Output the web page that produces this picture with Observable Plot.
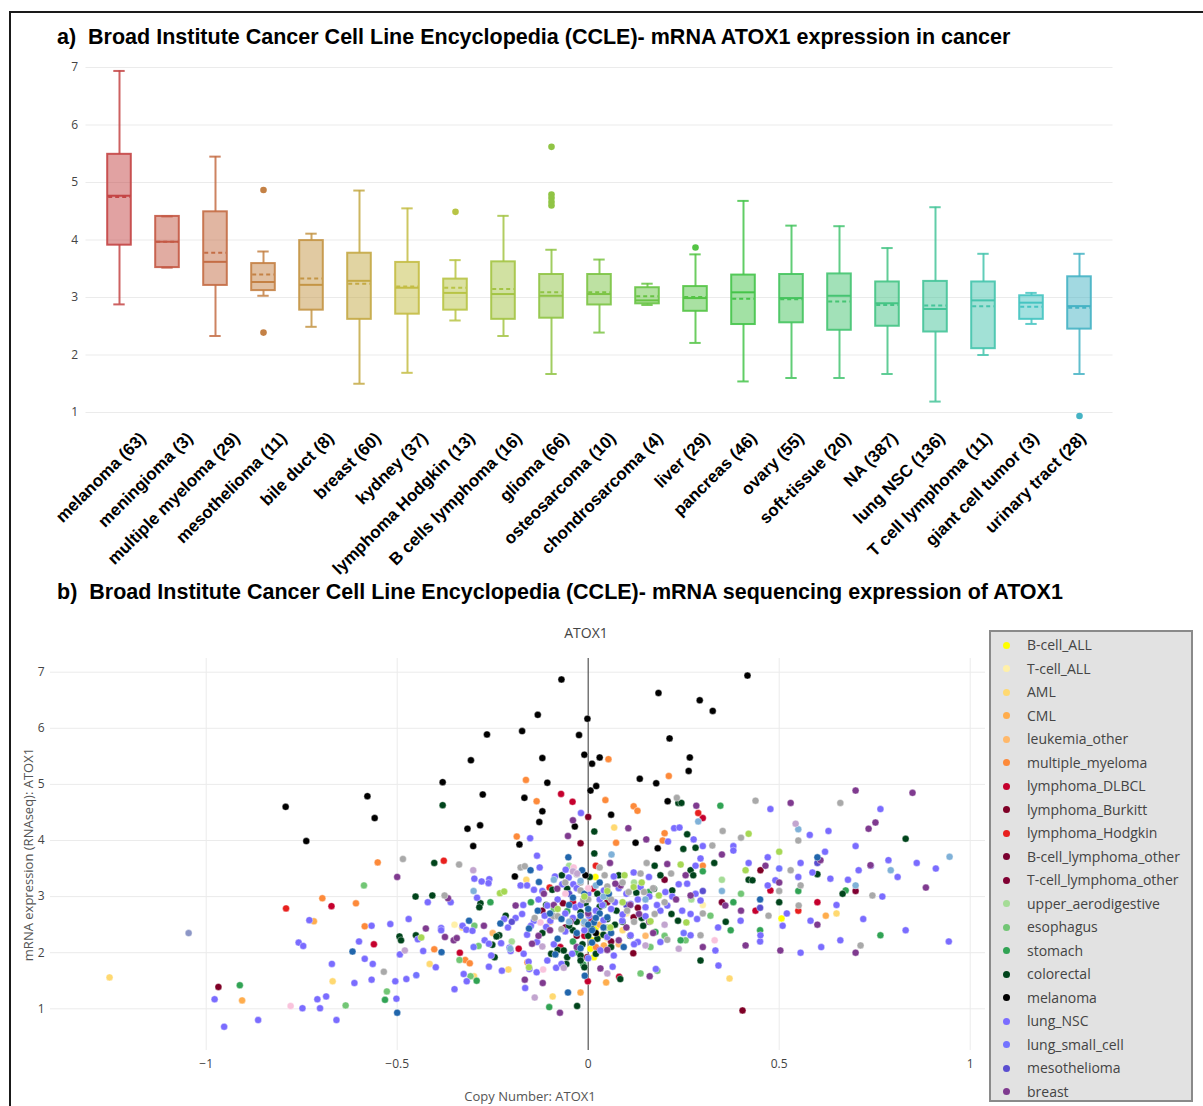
<!DOCTYPE html>
<html><head><meta charset="utf-8">
<script src="https://cdn.jsdelivr.net/npm/d3@7"></script>
<script src="https://cdn.jsdelivr.net/npm/@observablehq/plot@0.6"></script>
<style>
body{margin:0;width:1203px;height:1106px;overflow:hidden;background:#fff;position:relative;font-family:"Liberation Sans",Arial,sans-serif;}
#frame{position:absolute;left:9px;top:11px;width:1300px;height:1200px;border:2px solid #1a1a1a;}
.title{position:absolute;left:57px;font-weight:bold;font-size:21.5px;line-height:24px;color:#000;white-space:nowrap;}
.abs{position:absolute;left:0;}
#stitle{position:absolute;left:0;width:1172px;text-align:center;top:623px;font-family:"Open Sans";font-size:14px;color:#444}
#legend{position:absolute;left:989px;top:630px;width:204px;height:472px;background:#e2e2e2;border:2px solid #8a8a8a;box-sizing:border-box;}
.li{position:absolute;left:0;height:20px;font-family:"Open Sans";font-size:14px;color:#444;line-height:20px;white-space:nowrap;}
.li span.d{position:absolute;left:12px;top:6.5px;width:7px;height:7px;border-radius:50%;}
.li span.t{position:absolute;left:36px;top:0;}
</style></head>
<body>
<div id="frame"></div>
<div class="title" style="top:25px">a)&nbsp;&nbsp;Broad Institute Cancer Cell Line Encyclopedia (CCLE)- mRNA ATOX1 expression in cancer</div>
<div id="boxchart" class="abs" style="top:50px"></div>
<div id="boxlabels" class="abs" style="top:50px"></div>
<div class="title" style="top:580px">b)&nbsp;&nbsp;Broad Institute Cancer Cell Line Encyclopedia (CCLE)- mRNA sequencing expression of ATOX1</div>
<div id="stitle">ATOX1</div>
<div id="scatter" class="abs" style="top:620px"></div>
<div id="legend"></div>
<script>
// ---------- Panel a: box plot data ----------
const boxCats = ["melanoma (63)","meningioma (3)","multiple myeloma (29)","mesothelioma (11)","bile duct (8)","breast (60)","kydney (37)","lymphoma Hodgkin (13)","B cells lymphoma (16)","glioma (66)","osteosarcoma (10)","chondrosarcoma (4)","liver (29)","pancreas (46)","ovary (55)","soft-tissue (20)","NA (387)","lung NSC (136)","T cell lymphoma (11)","giant cell tumor (3)","urinary tract (28)"];
const boxQ1     = [3.91,3.52,3.21,3.12,2.78,2.62,2.71,2.78,2.62,2.64,2.87,2.89,2.76,2.53,2.56,2.43,2.50,2.40,2.11,2.62,2.45];
const boxMedian = [4.77,3.97,3.62,3.27,3.22,3.29,3.17,3.08,3.06,3.03,3.06,2.95,2.99,3.09,2.99,3.03,2.90,2.80,2.95,2.91,2.85];
const boxQ3     = [5.49,4.41,4.49,3.59,3.99,3.77,3.61,3.32,3.62,3.40,3.40,3.17,3.19,3.39,3.40,3.41,3.27,3.28,3.27,3.03,3.36];
const boxLow    = [2.88,3.52,2.33,3.03,2.49,1.50,1.69,2.60,2.33,1.67,2.39,2.87,2.21,1.54,1.60,1.60,1.67,1.19,2.00,2.54,1.67];
const boxHigh   = [6.94,4.41,5.45,3.80,4.11,4.86,4.55,3.65,4.42,3.83,3.66,3.24,3.75,4.68,4.25,4.24,3.86,4.57,3.76,3.08,3.76];
const boxMean   = [4.75,3.97,3.78,3.40,3.33,3.24,3.19,3.17,3.15,3.09,3.09,3.02,3.01,2.98,2.97,2.93,2.87,2.86,2.85,2.84,2.82];
const outlierCat = ["mesothelioma (11)","mesothelioma (11)","lymphoma Hodgkin (13)","glioma (66)","glioma (66)","glioma (66)","glioma (66)","glioma (66)","liver (29)","urinary tract (28)"];
const outlierVal = [4.87,2.39,4.49,5.62,4.79,4.73,4.66,4.60,3.87,0.94];
const yTicksA = [1,2,3,4,5,6,7];

// ---------- Panel b: scatter data (copy number, mRNA) ----------
const bcellALL = [[0.019,3.35],[0.006,2.07],[0.010,2.22],[0.015,1.92],[0.506,2.61],[0.03,2.30],[-0.02,2.62],[0.02,2.45]];
const tcellALL = [[-0.35,2.50],[0.05,2.25],[0.10,2.70],[0.30,2.85]];
const aml = [[-1.253,1.56],[-0.669,1.49],[-0.415,1.80],[-0.299,1.58],[-0.209,1.70],[-0.162,3.30],[0.068,4.23],[-0.093,1.22],[0.370,1.54],[0.65,2.70],[-0.33,2.45],[0.09,2.40]];
const cml = [[-0.906,1.15],[-0.718,2.56],[-0.020,1.29],[0.047,1.47],[0.622,2.66],[0.03,2.50],[0.041,2.13]];
const leukOther = [[-0.10,2.55],[0.15,2.30],[-0.25,2.35],[0.08,2.15]];
const myeloma = [[-0.696,2.97],[-0.608,2.88],[-0.551,3.61],[-0.585,2.47],[0.053,5.45],[-0.163,5.08],[0.211,5.15],[-0.135,4.70],[0.045,4.72],[0.119,4.61],[0.129,4.53],[-0.187,4.07],[0.073,3.96],[0.195,4.00],[0.200,4.13],[-0.403,2.06],[-0.322,1.87],[-0.310,1.81],[-0.159,1.83],[0.02,2.10],[0.30,3.55]];
const dlbcl = [[-0.672,2.83],[-0.561,2.15],[-0.071,4.83],[-0.041,4.69],[-0.336,2.00],[-0.001,1.49],[0.081,1.57],[0.013,3.14],[-0.182,2.07],[-0.073,2.10],[0.024,2.75],[0.477,3.11],[0.30,4.40],[0.60,2.90],[0.438,2.75],[-0.01,2.30],[0.03,2.05],[0.01,2.60],[-0.04,2.90]];
const burkitt = [[-0.968,1.39],[0.000,4.42],[-0.020,3.95],[-0.066,2.88],[0.118,1.99],[0.451,3.47],[0.404,0.97],[0.05,2.90],[-0.03,2.30],[0.13,2.80],[0.119,2.63],[-0.003,1.92]];
const hodgkin = [[-0.791,2.79],[-0.378,3.64],[0.288,4.49],[-0.101,3.16],[0.02,3.55],[0.55,2.75]];
const bcellLymph = [[0.06,2.20],[-0.12,2.75],[0.20,3.30]];
const tcellLymph = [[0.35,2.90],[0.70,3.10],[-0.06,2.45]];
const upperAero = [[-0.05,3.55],[0.12,3.25],[0.27,2.95],[-0.20,2.20],[0.35,3.30],[0.05,2.45]];
const esophagus = [[-0.635,1.06],[-0.587,3.20],[-0.527,1.31],[-0.298,2.48],[-0.337,1.87],[-0.308,1.58],[-0.287,2.12],[-0.090,2.78],[0.137,1.63],[0.181,1.68],[0.20,2.30],[0.05,3.00],[0.40,3.05],[0.163,2.10],[0.255,2.22],[0.320,2.66]];
const stomach = [[-0.912,1.42],[-0.532,1.16],[-0.292,1.50],[-0.256,2.90],[-0.102,1.03],[-0.055,2.74],[0.159,3.08],[-0.029,2.01],[-0.013,1.79],[0.242,2.22],[0.346,4.62],[0.30,3.45],[0.38,2.90],[0.45,2.40],[-0.15,2.90],[0.55,3.10],[0.176,2.37],[0.674,3.11],[0.373,2.40],[0.765,2.31],[-0.04,2.20],[0.04,2.85]];
const colorectal = [[-0.452,3.00],[-0.494,2.29],[-0.490,2.22],[-0.451,2.31],[-0.381,4.63],[0.016,4.16],[0.236,4.67],[0.244,4.67],[0.016,3.77],[0.249,3.85],[0.259,4.11],[0.281,3.87],[-0.403,3.60],[-0.408,3.02],[-0.282,2.88],[-0.285,2.81],[-0.216,2.66],[-0.245,1.92],[-0.251,2.14],[-0.233,2.31],[-0.240,2.29],[-0.057,1.80],[-0.029,1.05],[0.084,1.53],[-0.069,3.38],[0.004,3.35],[0.080,3.38],[0.174,3.55],[0.189,3.38],[0.268,3.47],[0.275,3.38],[-0.094,3.12],[-0.055,3.14],[0.024,3.05],[0.126,3.07],[0.172,3.14],[0.220,3.11],[-0.007,2.88],[0.074,2.75],[0.144,2.48],[0.235,2.57],[-0.055,1.92],[0.024,2.25],[0.831,4.03],[0.666,3.05],[-0.08,2.05],[-0.04,2.40],[0.05,2.60],[-0.02,1.95],[0.11,2.30],[0.33,3.60],[0.42,3.30],[0.50,2.90],[0.60,3.40],[0.36,2.55],[0.218,2.69],[-0.097,1.98],[-0.064,2.04],[-0.020,1.86],[-0.010,1.74],[0.430,3.29],[0.294,1.86],[-0.12,2.35],[-0.03,2.55],[0.01,2.42],[0.04,2.32],[-0.015,2.15],[0.07,2.50],
  [0.00,2.30],[-0.02,2.72],[0.03,2.82],[0.06,2.10],[-0.05,2.48],[0.09,2.55],[-0.11,2.85],[0.14,2.62],[0.02,1.98]];
const melanoma = [[-0.792,4.60],[-0.738,3.99],[-0.578,4.79],[-0.559,4.40],[-0.070,6.87],[0.184,6.63],[0.292,6.50],[0.326,6.31],[0.417,6.94],[-0.132,6.24],[-0.002,6.17],[-0.265,5.89],[-0.173,5.95],[-0.024,5.88],[0.213,5.82],[-0.307,5.43],[-0.120,5.47],[-0.010,5.53],[0.010,5.37],[0.030,5.48],[0.266,5.48],[0.263,5.24],[-0.381,5.04],[-0.107,5.03],[0.135,5.10],[0.178,5.02],[0.021,4.97],[0.006,4.89],[-0.276,4.82],[-0.167,4.76],[-0.120,4.52],[0.208,4.70],[0.060,4.46],[-0.128,4.33],[-0.035,4.25],[-0.316,4.21],[-0.283,4.27],[-0.180,3.93],[-0.301,3.90],[0.124,3.96],[0.182,3.86],[-0.192,3.36],[-0.007,3.38],[-0.005,2.95],[0.02,2.35]];
const lungNSC = [[-0.978,1.17],[-0.953,0.68],[-0.864,0.80],[-0.730,2.58],[-0.758,2.18],[-0.746,2.12],[-0.748,1.01],[-0.671,1.80],[-0.709,1.17],[-0.686,1.22],[-0.702,1.01],[-0.659,0.80],[-0.612,1.46],[-0.567,2.48],[-0.585,1.89],[-0.564,1.80],[-0.567,1.52],[-0.505,1.49],[-0.502,1.18],[-0.518,2.51],[-0.446,2.24],[-0.493,1.97],[-0.432,2.03],[-0.476,1.53],[-0.019,4.49],[-0.152,4.04],[0.209,3.98],[0.225,4.22],[0.239,4.23],[0.276,4.02],[-0.134,3.73],[-0.291,2.98],[-0.259,3.31],[-0.261,3.24],[-0.279,3.27],[-0.298,3.32],[-0.399,1.74],[-0.385,2.44],[-0.385,2.40],[-0.329,2.48],[-0.319,2.41],[-0.303,2.39],[-0.326,1.62],[-0.318,1.49],[-0.260,1.75],[-0.226,1.68],[-0.254,1.95],[-0.271,2.22],[-0.260,2.16],[-0.228,2.17],[-0.206,2.09],[-0.203,2.03],[-0.165,1.37],[-0.135,1.65],[-0.154,1.71],[-0.156,1.84],[-0.084,1.73],[-0.070,1.80],[0.064,1.75],[0.177,1.71],[-0.127,3.52],[-0.087,3.36],[-0.059,3.48],[0.067,3.36],[0.119,3.43],[0.159,3.35],[-0.177,3.20],[-0.142,3.12],[-0.039,3.22],[0.041,3.11],[0.137,3.17],[0.202,3.08],[0.237,3.22],[0.259,3.23],[0.281,3.05],[-0.173,2.69],[-0.142,2.57],[-0.099,2.57],[0.089,2.57],[0.111,2.87],[0.189,2.75],[-0.134,2.19],[-0.107,1.86],[0.189,2.19],[0.944,2.20],[0.629,4.17],[0.765,4.56],[0.477,4.56],[0.556,3.60],[0.556,2.00],[0.61,2.10],[0.72,2.60],[0.68,3.30],[0.74,3.55],[0.81,3.35],[0.47,3.70],[0.52,2.70],[0.38,3.90],[0.58,4.10],[0.65,2.85],[0.86,3.60],[0.45,2.20],[0.34,2.45],[0.42,3.60],[0.30,3.90],[0.55,3.35],[0.62,3.80],[0.70,3.90],[0.91,3.50],[0.77,3.00],[0.47,3.20],[-0.36,2.90],[-0.42,2.90],[-0.47,2.60],[-0.60,2.20],[-0.35,1.35],
  [-0.051,3.34],[0.281,3.55],[-0.160,3.20],[-0.068,3.22],[0.000,3.05],[-0.114,2.66],[-0.107,2.84],[-0.033,2.81],[0.002,2.66],[0.037,2.85],[0.150,2.81],[0.207,2.84],[0.246,2.75],[0.268,2.69],[0.285,2.60],[-0.169,1.98],[-0.042,1.98],[0.032,2.04],[0.050,2.28],[0.067,1.95],[0.111,2.31],[0.130,2.19],[0.268,2.31],[0.294,3.68],[0.380,3.82],[0.490,3.29],[0.587,3.43],[0.634,3.32],[0.708,3.47],[0.786,3.65],[0.294,2.93],[0.399,2.57],[0.509,2.48],[0.582,2.57],[0.333,2.04],[0.451,2.31],[0.341,1.77],[0.660,2.22],[0.831,2.40],[-0.19,2.62],[-0.21,2.45],[-0.16,2.32],[-0.11,2.46],[-0.06,2.70],[-0.02,2.85],[0.03,2.95],[0.06,2.78],[0.09,2.68],[0.13,2.95],[0.16,3.00],[-0.08,2.95],[-0.13,2.95],
  [-0.01,2.40],[0.02,2.75],[0.04,2.58],[-0.04,2.62],[-0.06,2.38],[0.07,2.90],[0.10,3.05],[-0.12,3.10],[-0.17,2.85],[-0.22,2.60],[0.15,2.65],[0.18,2.85],[0.22,3.00],[0.12,2.15],[-0.09,2.15],[-0.15,2.48],[0.08,3.15],[-0.03,3.15]];
const lungSmall = [[-0.45,1.60],[0.00,1.90],[0.25,2.35],[0.50,3.50],[-0.30,2.10]];
const mesothelioma = [[-0.20,2.55],[0.10,2.85],[0.30,3.10],[-0.05,3.05],[0.45,2.80],[0.60,3.60]];
const breast = [[-0.500,3.35],[-0.425,2.43],[-0.367,2.97],[-0.375,2.28],[-0.352,2.22],[-0.344,2.26],[-0.273,2.48],[-0.166,1.52],[-0.119,1.46],[-0.074,0.93],[0.032,1.72],[0.161,1.58],[0.283,4.62],[-0.040,4.36],[0.105,4.22],[-0.053,4.08],[0.152,4.02],[-0.190,2.84],[-0.116,3.05],[0.057,3.60],[0.085,3.20],[0.071,3.23],[0.207,3.58],[0.255,3.38],[0.133,2.69],[0.849,4.85],[0.700,4.89],[0.734,4.21],[0.752,4.32],[0.530,4.67],[0.884,3.16],[0.50,3.25],[0.40,2.75],[0.60,2.50],[0.70,2.00],[0.35,3.75],[0.23,2.95],[-0.10,2.40],[0.00,2.70],[0.30,2.10],
  [-0.081,3.14],[0.268,3.02],[-0.046,2.56],[-0.147,2.16],[0.080,2.22],[0.464,3.55],[0.608,3.65],[0.739,3.56],[0.359,2.84],[0.412,2.13],[0.503,2.04],[-0.09,2.85],[0.10,2.45],[0.17,2.35],
  [-0.03,2.10],[0.05,2.05],[0.11,2.85],[-0.13,2.30],[0.16,2.55]];
// further lineages (legend entries beyond the visible legend box)
const ovaryGray = [[-0.535,1.66],[-0.485,3.67],[0.232,4.76],[-0.338,3.57],[-0.376,3.02],[-0.177,3.52],[0.030,3.52],[0.043,3.38],[0.137,3.41],[0.153,3.60],[0.217,3.41],[-0.020,3.11],[0.106,3.08],[0.744,3.02],[0.660,4.67],[0.438,4.71],[0.40,4.05],[0.55,4.00],[0.50,3.10],[0.30,2.70],[-0.09,2.65],[0.20,2.90],[-0.013,2.94],[-0.03,3.40],
  [-0.166,3.54],[0.146,3.08],[-0.080,2.65],[-0.011,2.52],[0.102,2.75],[0.174,2.69],[0.207,2.23],[0.325,3.91],[0.352,4.17],[0.530,3.47],[0.556,3.20],[0.472,2.66],[0.551,2.84],[0.294,2.31],[0.713,2.13],[-0.14,2.62],[0.06,2.95],[0.12,2.55],[-0.06,3.25],
  [0.00,2.95],[-0.02,3.25],[0.05,3.18],[0.09,3.25],[-0.07,2.42],[0.17,3.15]];
const kidneyBlue = [[0.288,4.34],[0.061,3.75],[-0.204,2.07],[0.946,3.71],[0.792,3.47],[0.55,4.20],[0.35,3.10],[-0.05,2.55],[0.15,2.95],[0.70,3.20],[-0.30,3.10],[-0.02,3.28],[0.02,3.20],[-0.01,2.55],[0.04,3.00],[-0.09,3.30]];
const pancreasBlue = [[-0.617,2.02],[-0.500,0.93],[-0.151,3.47],[-0.052,3.70],[-0.384,2.01],[-0.312,2.57],[-0.230,2.52],[-0.053,1.29],[-0.009,1.59],[-0.016,3.47],[-0.129,3.26],[0.054,3.05],[-0.155,2.43],[-0.132,2.75],[-0.020,2.66],[0.015,2.54],[0.050,2.63],[0.093,2.10],[0.60,3.70],[0.45,2.95],[-0.086,1.97],[-0.04,2.98],[0.00,2.78],[-0.08,2.25],[0.03,2.70],[0.01,2.40],
  [-0.03,2.35],[0.00,2.50],[0.02,2.62],[-0.05,2.85],[-0.01,3.05],[0.04,2.45],[-0.07,2.60],[0.01,2.18],[-0.02,2.08],[0.06,2.35],[-0.10,2.70],[0.03,3.25]];
const urinaryPink = [[-0.779,1.05],[-0.118,1.70],[-0.038,3.52],[-0.125,2.54],[0.331,2.22],[0.00,3.15],[-0.06,3.05]];
const liverLime = [[-0.437,2.27],[-0.231,3.06],[-0.220,3.09],[-0.155,1.74],[0.095,3.38],[0.119,3.17],[0.185,3.02],[0.058,2.45],[0.163,2.56],[0.242,3.57],[0.42,4.12],[0.50,3.80],[0.257,2.54],[0.412,3.47],[-0.01,3.00],[0.09,2.90],[0.05,3.10],[-0.08,2.78],[0.14,3.25]];
const softLavender = [[-0.480,2.04],[-0.301,3.47],[-0.140,1.20],[-0.064,1.73],[0.050,1.63],[0.237,2.07],[0.543,4.30],[-0.04,3.45],[0.20,2.50],[-0.029,3.41],[-0.120,2.11],[0.150,2.13]];
const boneSlate = [[-1.046,2.35]];

const legendNames = ["B-cell_ALL","T-cell_ALL","AML","CML","leukemia_other","multiple_myeloma","lymphoma_DLBCL","lymphoma_Burkitt","lymphoma_Hodgkin","B-cell_lymphoma_other","T-cell_lymphoma_other","upper_aerodigestive","esophagus","stomach","colorectal","melanoma","lung_NSC","lung_small_cell","mesothelioma","breast","ovary","kidney","pancreas","urinary_tract","liver","soft_tissue","bone"];
const seriesData = [bcellALL,tcellALL,aml,cml,leukOther,myeloma,dlbcl,burkitt,hodgkin,bcellLymph,tcellLymph,upperAero,esophagus,stomach,colorectal,melanoma,lungNSC,lungSmall,mesothelioma,breast,ovaryGray,kidneyBlue,pancreasBlue,urinaryPink,liverLime,softLavender,boneSlate];
const xTicksB = [-1,-0.5,0,0.5,1];
const yTicksB = [1,2,3,4,5,6,7];

// ---------- styles ----------
const seriesColors = ["#ffff00","#fff0a8","#ffd971","#ffad4d","#ffb86a","#fd8a3a","#c5002d","#7f0026","#e8201e","#7a0030","#800032","#a5dc96","#72c675","#31a354","#00441b","#000000","#7a6cff","#7373ff","#5a4ed0","#7f3a8f","#a9a9a9","#7fb1d8","#2166ac","#f9c3dc","#a6d854","#c2a5cf","#8c96c6"];
const visibleLegend = 20;

const boxColor = boxCats.map((d,i)=> d3.hsl(i*9.4, 0.52, 0.52).formatHex());
const boxData = boxCats.map((c,i)=>({cat:c,q1:boxQ1[i],med:boxMedian[i],q3:boxQ3[i],lo:boxLow[i],hi:boxHigh[i],mean:boxMean[i],color:boxColor[i]}));
const outliers = outlierCat.map((c,i)=>({cat:c,v:outlierVal[i],color:boxColor[boxCats.indexOf(c)]}));

const boxW = 24.5, capW = 12.3, band = (1112.5-85.5)/boxCats.length;
const inB = (band-boxW)/2, inC = (band-capW)/2;
const intFmt = d3.format("d");

const chartA = Plot.plot({
  width:1203, height:530, marginLeft:85.5, marginRight:90.5, marginTop:10, marginBottom:159,
  x:{type:"band", domain:boxCats, range:[85.5,1112.5], padding:0, axis:null},
  y:{domain:[1,7], range:[362,17], axis:null},
  color:{type:"identity"},
  style:{fontFamily:"'Open Sans'", background:"transparent", overflow:"visible"},
  marks:[
    Plot.gridY(yTicksA,{stroke:"#ebebeb",strokeOpacity:1,strokeWidth:1}),
    Plot.axisY(yTicksA,{tickSize:0,tickPadding:8,fontSize:12,fill:"#444",label:null,tickFormat:intFmt}),
    Plot.ruleX(boxData,{x:"cat",y1:"lo",y2:"q1",stroke:"color",strokeWidth:2,strokeOpacity:0.85}),
    Plot.ruleX(boxData,{x:"cat",y1:"q3",y2:"hi",stroke:"color",strokeWidth:2,strokeOpacity:0.85}),
    Plot.tickY(boxData,{x:"cat",y:"lo",stroke:"color",strokeWidth:2,strokeOpacity:0.85,insetLeft:inC,insetRight:inC}),
    Plot.tickY(boxData,{x:"cat",y:"hi",stroke:"color",strokeWidth:2,strokeOpacity:0.85,insetLeft:inC,insetRight:inC}),
    Plot.barY(boxData,{x:"cat",y1:"q1",y2:"q3",fill:"color",fillOpacity:0.5,stroke:"color",strokeWidth:2,strokeOpacity:0.9,insetLeft:inB,insetRight:inB}),
    Plot.tickY(boxData,{x:"cat",y:"med",stroke:"color",strokeWidth:2,insetLeft:inB,insetRight:inB}),
    Plot.tickY(boxData,{x:"cat",y:"mean",stroke:"color",strokeWidth:2,strokeDasharray:"4,3",insetLeft:inB+1,insetRight:inB+1}),
    Plot.dot(outliers,{x:"cat",y:"v",r:3.3,fill:"color",stroke:"none"})
  ]
});
document.getElementById("boxchart").append(chartA);

// category labels (in the source they are spaced slightly tighter than the boxes)
const labelsA = Plot.plot({
  width:1203, height:530, marginLeft:85.5, marginRight:90.5, marginTop:10, marginBottom:159,
  x:{type:"band", domain:boxCats, range:[118.5,1105.5], padding:0},
  style:{fontFamily:"'Liberation Sans', Arial, sans-serif", background:"transparent", overflow:"visible"},
  marks:[
    Plot.axisX({tickSize:0,tickPadding:14,tickRotate:-45,textAnchor:"end",fontSize:17,fontWeight:"bold",fill:"#000",label:null})
  ]
});
labelsA.style.pointerEvents="none";
document.getElementById("boxlabels").append(labelsA);

// ---------- Panel b ----------
const points = [];
seriesData.forEach((arr,si)=> arr.forEach(([cn,mrna])=> points.push({cn, mrna, lineage:legendNames[si], color:seriesColors[si]})));

const chartB = Plot.plot({
  width:1203, height:486, marginLeft:50, marginRight:218, marginTop:38, marginBottom:56,
  x:{domain:[-1,1], range:[205.7,969.7]},
  y:{domain:[1,7], range:[388.3,51.7]},
  color:{type:"identity"},
  style:{fontFamily:"'Open Sans'", background:"transparent"},
  marks:[
    Plot.gridX(xTicksB.filter(d=>d!==0),{stroke:"#ebebeb",strokeOpacity:1}),
    Plot.gridY(yTicksB,{stroke:"#ebebeb",strokeOpacity:1}),
    Plot.ruleX([0],{stroke:"#555",strokeWidth:1.2}),
    Plot.axisX(xTicksB,{tickSize:0,tickPadding:9,fontSize:12,fill:"#444",label:"Copy Number: ATOX1",labelAnchor:"center",labelOffset:50,labelArrow:"none",tickFormat:d3.format("~g")}),
    Plot.axisY(yTicksB,{tickSize:0,tickPadding:6,fontSize:12,fill:"#444",label:"mRNA expression (RNAseq): ATOX1",labelAnchor:"center",labelOffset:27,labelArrow:"none",tickFormat:intFmt}),
    Plot.dot(points,{x:"cn",y:"mrna",r:3.5,fill:"color",stroke:"#fff",strokeWidth:0.4})
  ]
});
chartB.querySelectorAll("text").forEach(t=>{
  if (/[↑→]/.test(t.textContent)) { t.textContent = t.textContent.replace(/\s*[↑→]\s*/g,""); }
  if (t.textContent.startsWith("Copy Number") || t.textContent.startsWith("mRNA expression")) { t.style.fontSize="13px"; t.setAttribute("fill","#555"); }
  if (t.textContent.startsWith("Copy Number")) { t.setAttribute("dx","12"); }
});
document.getElementById("scatter").append(chartB);

// legend
const lg = document.getElementById("legend");
legendNames.slice(0,visibleLegend).forEach((name,i)=>{
  const row = document.createElement("div");
  row.className="li";
  row.style.top = (3 + i*23.5) + "px";
  row.style.width="200px";
  row.innerHTML = `<span class="d" style="background:${seriesColors[i]}"></span><span class="t">${name}</span>`;
  lg.append(row);
});
</script>
</body></html>
